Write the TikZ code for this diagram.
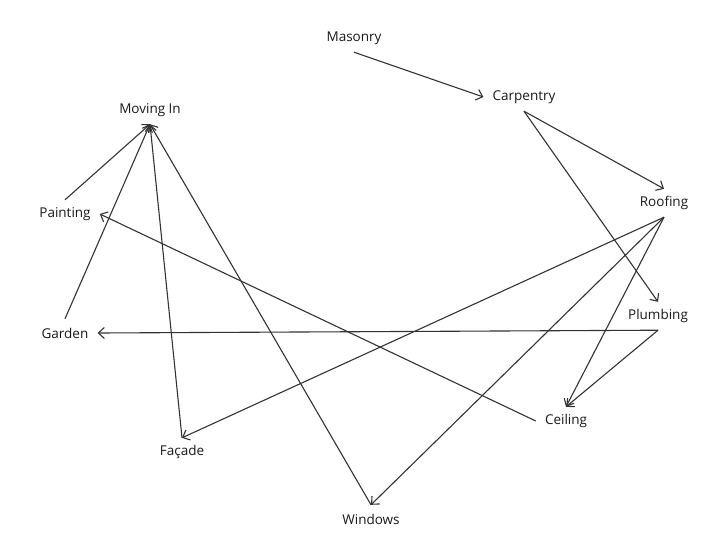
\documentclass[tikz,border=0pt]{standalone}
\usepackage{fontspec}
\setmainfont{Open Sans}
\usetikzlibrary{arrows.meta}
\begin{document}
\begin{tikzpicture}[x=1pt,y=-1pt,
  lbl/.style={inner xsep=9pt, inner ysep=0pt, minimum height=28pt, text=black!90, font=\fontsize{13.5pt}{16pt}\selectfont},
  edge/.style={draw=black!80, line width=1.1pt, -{Straight Barb[length=6pt,width=11pt,line width=1.1pt]}}]
\useasboundingbox (0,0) rectangle (719,547);
\node[lbl] (mas) at (354,38) {Masonry};
\node[lbl] (car) at (524,97) {Carpentry};
\node[lbl] (roof) at (664,203) {Roofing};
\node[lbl] (plum) at (658,316) {Plumbing};
\node[lbl] (ceil) at (566,421) {Ceiling};
\node[lbl] (win) at (371,519) {Windows};
\node[lbl] (fac) at (182,452) {Façade};
\node[lbl] (gar) at (65,333) {Garden};
\node[lbl] (paint) at (65,214) {Painting};
\node[lbl] (mov) at (150,110) {Moving In};
\draw[edge] (mas.south) -- (car.west);
\draw[edge] (car.south) -- (roof.north);
\draw[edge] (car.south) -- (plum.north);
\draw[edge] (roof.south) -- (fac.north);
\draw[edge] (roof.south) -- (win.north);
\draw[edge] (roof.south) -- (ceil.north);
\draw[edge] (plum.south) -- (ceil.north);
\draw[edge] (plum.south) -- (gar.east);
\draw[edge] (ceil.west) -- (paint.east);
\draw[edge] (paint.north) -- (mov.south);
\draw[edge] (gar.north) -- (mov.south);
\draw[edge] (fac.north) -- (mov.south);
\draw[edge] (win.north) -- (mov.south);
\end{tikzpicture}
\end{document}
